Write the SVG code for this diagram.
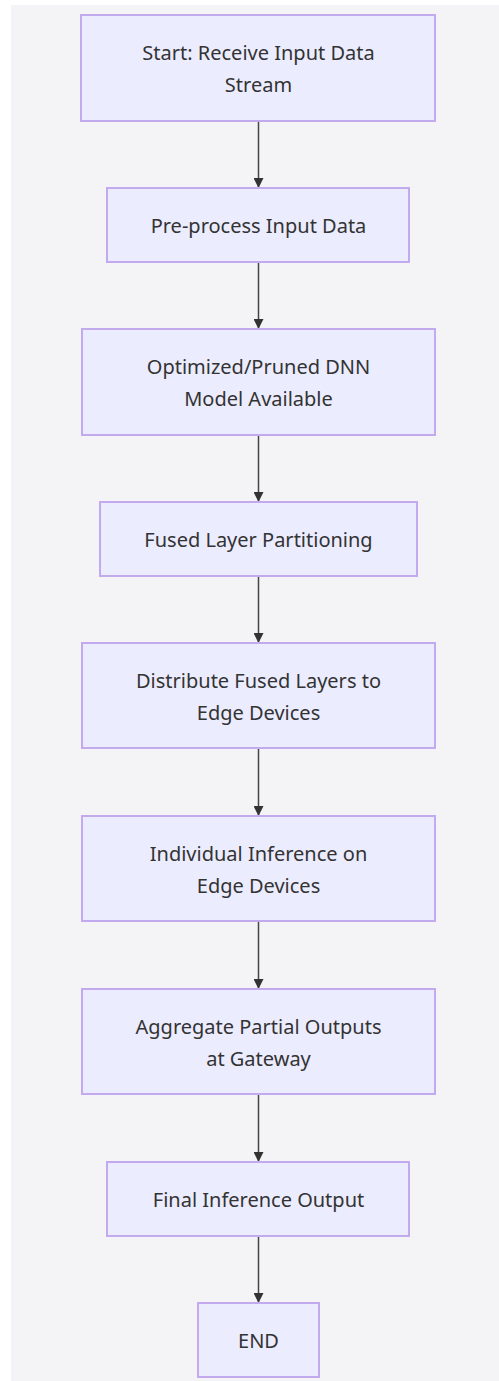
<svg xmlns="http://www.w3.org/2000/svg" width="499" height="1381" viewBox="0 0 499 1381">
<style>
.node rect{fill:#ECECFF;stroke:#C3A9EE;stroke-width:2}
.node text{font-family:"Noto Sans","DejaVu Sans",sans-serif;font-size:20px;fill:#333;text-anchor:middle;dominant-baseline:central}
.edge{stroke:#444;stroke-width:1.5;fill:none;marker-end:url(#arrow)}
</style>
<defs>
<marker id="arrow" viewBox="0 0 10 10" refX="10" refY="5" markerWidth="10" markerHeight="10" markerUnits="userSpaceOnUse" orient="auto">
<path d="M0,0 L10,5 L0,10 z" fill="#333"/>
</marker>
</defs>
<rect x="0" y="0" width="499" height="1381" fill="#ffffff"/>
<rect x="11" y="5" width="488" height="1376" fill="#F4F4F6"/>
<g id="connectors">
<line class="edge" x1="258.5" y1="121" x2="258.5" y2="188"/>
<line class="edge" x1="258.5" y1="262" x2="258.5" y2="329"/>
<line class="edge" x1="258.5" y1="435" x2="258.5" y2="502"/>
<line class="edge" x1="258.5" y1="576" x2="258.5" y2="643"/>
<line class="edge" x1="258.5" y1="748" x2="258.5" y2="816"/>
<line class="edge" x1="258.5" y1="921" x2="258.5" y2="989"/>
<line class="edge" x1="258.5" y1="1094" x2="258.5" y2="1162"/>
<line class="edge" x1="258.5" y1="1236" x2="258.5" y2="1303"/>
</g>
<g id="n1" class="node"><rect x="81" y="15" width="354" height="106"/><text x="258.5" y="52">Start: Receive Input Data</text><text x="258.5" y="84">Stream</text></g>
<g id="n2" class="node"><rect x="107" y="188" width="302" height="74"/><text x="258.5" y="225">Pre-process Input Data</text></g>
<g id="n3" class="node"><rect x="82" y="329" width="353" height="106"/><text x="258.5" y="366">Optimized/Pruned DNN</text><text x="258.5" y="398">Model Available</text></g>
<g id="n4" class="node"><rect x="100" y="502" width="317" height="74"/><text x="258.5" y="539">Fused Layer Partitioning</text></g>
<g id="n5" class="node"><rect x="82" y="643" width="353" height="105"/><text x="258.5" y="680">Distribute Fused Layers to</text><text x="258.5" y="712">Edge Devices</text></g>
<g id="n6" class="node"><rect x="82" y="816" width="353" height="105"/><text x="258.5" y="853">Individual Inference on</text><text x="258.5" y="885">Edge Devices</text></g>
<g id="n7" class="node"><rect x="82" y="989" width="353" height="105"/><text x="258.5" y="1026">Aggregate Partial Outputs</text><text x="258.5" y="1058">at Gateway</text></g>
<g id="n8" class="node"><rect x="107" y="1162" width="302" height="74"/><text x="258.5" y="1199">Final Inference Output</text></g>
<g id="n9" class="node"><rect x="198" y="1303" width="121" height="74"/><text x="258.5" y="1340">END</text></g>
</svg>
